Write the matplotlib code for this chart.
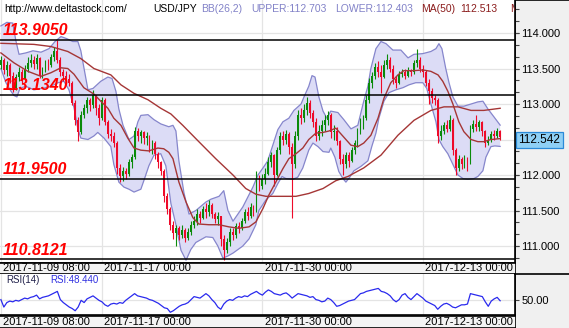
import matplotlib
matplotlib.use("Agg")
import matplotlib.pyplot as plt
import numpy as np
from matplotlib.lines import Line2D

# USD/JPY 4h bars, 2017-11-09 .. 2017-12-15
first_open = 113.55
closes = [
    113.62, 113.48, 113.55, 113.40, 113.22, 113.38, 113.45, 113.35, 113.50, 113.58,
    113.62, 113.56, 113.65, 113.40, 113.48, 113.58, 113.55, 113.66, 113.74, 113.62,
    113.45, 113.40, 113.35, 113.30, 113.02, 112.78, 112.60, 112.85, 112.95, 113.05,
    112.98, 113.12, 112.95, 112.80, 113.05, 112.75, 112.58, 112.55, 112.45, 112.10,
    111.98, 112.05, 112.02, 112.18, 112.25, 112.62, 112.55, 112.60, 112.52, 112.55,
    112.38, 112.45, 112.30, 112.18, 112.05, 111.70, 111.52, 111.30, 111.18, 111.25,
    111.15, 111.22, 111.12, 111.20, 111.30, 111.35, 111.45, 111.40, 111.52, 111.48,
    111.58, 111.45, 111.38, 111.42, 111.10, 110.95, 111.05, 111.20, 111.15, 111.28,
    111.25, 111.35, 111.48, 111.42, 111.55, 111.50, 111.95, 111.85, 111.95, 112.02,
    112.18, 112.28, 112.00, 112.35, 112.55, 112.50, 112.58, 112.40, 112.15, 112.55,
    112.85, 112.80, 112.92, 113.02, 112.88, 112.75, 112.55, 112.62, 112.70, 112.78,
    112.85, 112.60, 112.62, 112.48, 112.22, 112.15, 112.28, 112.20, 112.35, 112.45,
    112.62, 112.72, 112.80, 113.05, 113.30, 113.40, 113.52, 113.45, 113.38, 113.55,
    113.62, 113.50, 113.35, 113.30, 113.42, 113.45, 113.40, 113.48, 113.45, 113.58,
    113.62, 113.50, 113.45, 113.30, 113.18, 113.08, 113.05, 112.55, 112.62, 112.70,
    112.65, 112.78, 112.35, 112.10, 112.22, 112.15, 112.22, 112.18, 112.65, 112.72,
    112.68, 112.74, 112.62, 112.45, 112.50, 112.58, 112.55, 112.62, 112.542,
]
highs = [
    113.68, 113.65, 113.60, 113.58, 113.45, 113.42, 113.52, 113.50, 113.55, 113.66,
    113.70, 113.68, 113.70, 113.66, 113.52, 113.62, 113.64, 113.70, 113.80, 113.905,
    113.66, 113.50, 113.46, 113.42, 113.32, 113.05, 112.82, 112.90, 113.00, 113.10,
    113.08, 113.20, 113.12, 113.00, 113.10, 113.08, 112.78, 112.65, 112.60, 112.48,
    112.15, 112.12, 112.10, 112.22, 112.30, 112.68, 112.66, 112.64, 112.62, 112.60,
    112.56, 112.50, 112.48, 112.32, 112.20, 112.08, 111.75, 111.55, 111.35, 111.30,
    111.28, 111.30, 111.26, 111.25, 111.35, 111.42, 111.52, 111.50, 111.56, 111.60,
    111.65, 111.60, 111.48, 111.48, 111.42, 111.15, 111.12, 111.25, 111.26, 111.32,
    111.34, 111.40, 111.52, 111.55, 111.60, 111.58, 112.05, 112.00, 112.02, 112.10,
    112.25, 112.32, 112.30, 112.40, 112.60, 112.62, 112.64, 112.60, 112.45, 112.62,
    112.92, 112.95, 113.00, 113.10, 113.05, 112.92, 112.80, 112.70, 112.78, 112.85,
    112.90, 112.88, 112.70, 112.68, 112.50, 112.30, 112.32, 112.32, 112.40, 112.50,
    112.66, 112.80, 112.85, 113.12, 113.36, 113.45, 113.58, 113.60, 113.55, 113.62,
    113.70, 113.66, 113.55, 113.40, 113.46, 113.50, 113.50, 113.52, 113.50, 113.62,
    113.78, 113.66, 113.55, 113.48, 113.35, 113.22, 113.12, 113.08, 112.70, 112.75,
    112.78, 112.85, 112.80, 112.38, 112.28, 112.26, 112.28, 112.25, 112.70, 112.78,
    112.85, 112.78, 112.76, 112.64, 112.55, 112.62, 112.64, 112.66, 112.64,
]
lows = [
    113.50, 113.42, 113.40, 113.30, 113.17, 113.20, 113.33, 113.28, 113.32, 113.45,
    113.52, 113.50, 113.50, 113.36, 113.36, 113.45, 113.48, 113.52, 113.60, 113.58,
    113.40, 113.32, 113.28, 113.25, 112.98, 112.70, 112.48, 112.58, 112.80, 112.88,
    112.90, 112.95, 112.85, 112.70, 112.78, 112.70, 112.52, 112.48, 112.40, 112.02,
    111.90, 111.92, 111.95, 111.98, 112.10, 112.22, 112.48, 112.45, 112.44, 112.42,
    112.32, 112.30, 112.22, 112.10, 112.00, 111.62, 111.45, 111.22, 111.10, 111.00,
    111.08, 111.12, 111.05, 111.08, 111.15, 111.25, 111.30, 111.32, 111.38, 111.40,
    111.42, 111.40, 111.32, 111.30, 111.00, 110.80, 110.90, 111.00, 111.08, 111.12,
    111.18, 111.22, 111.32, 111.36, 111.40, 111.42, 111.48, 111.78, 111.80, 111.88,
    112.00, 112.12, 111.85, 111.98, 112.30, 112.42, 112.44, 112.30, 111.40, 112.10,
    112.50, 112.72, 112.75, 112.85, 112.80, 112.68, 112.48, 112.50, 112.55, 112.62,
    112.70, 112.52, 112.50, 112.42, 112.15, 112.00, 112.10, 112.12, 112.18, 112.30,
    112.40, 112.58, 112.65, 112.78, 113.02, 113.22, 113.35, 113.38, 113.15, 113.36,
    113.50, 113.45, 113.28, 113.22, 113.28, 113.38, 113.35, 113.38, 113.40, 113.42,
    113.52, 113.45, 113.38, 113.25, 113.00, 113.02, 112.98, 112.45, 112.50, 112.58,
    112.60, 112.62, 112.28, 112.00, 112.05, 112.08, 112.10, 112.05, 112.15, 112.60,
    112.62, 112.62, 112.55, 112.40, 112.42, 112.46, 112.50, 112.52, 112.50,
]

# Bollinger(26,2) envelope, sampled along the bar axis
upper_pos = [0, 2.0, 4.0, 5.0, 6.1, 8.4, 10.8, 13.5, 16.2, 18.2, 20.2, 22.2, 24.2, 25.9,
             26.9, 27.9, 29.3, 31.0, 33.6, 36.0, 37.4, 38.7, 39.7, 41.1, 43.1, 44.8, 46.1,
             47.1, 49.5, 51.5, 53.8, 56.5, 57.9, 58.9, 59.9, 61.6, 63.3, 65.6, 69.0, 70.7,
             73.4, 75.0, 76.4, 78.1, 81.4, 84.8, 86.5, 88.2, 89.8, 91.5, 93.2, 94.9, 96.9,
             98.6, 101.0, 102.0, 103.6, 104.7, 105.7, 107.0, 108.4, 109.7, 111.0, 113.4,
             115.4, 117.8, 120.1, 122.1, 123.5, 124.5, 126.2, 127.9, 129.6, 131.9, 134.6,
             137.0, 139.0, 142.0, 144.7, 146.4, 147.4, 148.4, 149.7, 150.8, 152.1, 153.8,
             155.8, 158.2, 160.5, 162.2, 163.9, 165.9, 168]
upper_val = [114.10, 114.15, 114.14, 113.90, 113.70, 113.72, 113.75, 113.73, 113.78, 113.88,
             113.95, 113.92, 113.88, 113.88, 113.75, 113.52, 113.20, 113.22, 113.32, 113.38,
             113.36, 113.18, 112.93, 112.70, 112.50, 112.55, 112.75, 112.84, 112.85, 112.78,
             112.72, 112.68, 112.70, 112.62, 112.20, 111.75, 111.45, 111.50, 111.62, 111.66,
             111.70, 111.78, 111.50, 111.35, 111.55, 111.83, 112.00, 112.10, 112.20, 112.42,
             112.64, 112.75, 112.80, 112.91, 113.00, 113.10, 113.25, 113.40, 113.38, 113.10,
             112.90, 112.80, 112.90, 112.88, 112.78, 112.65, 112.70, 113.04, 113.25, 113.50,
             113.78, 113.88, 113.85, 113.76, 113.76, 113.65, 113.70, 113.71, 113.74, 113.78,
             113.85, 113.78, 113.50, 113.30, 113.10, 112.97, 112.97, 113.00, 113.03, 113.04,
             112.93, 112.82, 112.703]
lower_pos = [0, 1.7, 3.4, 4.4, 5.4, 6.4, 8.4, 11.1, 14.1, 16.8, 19.2, 21.2, 22.9, 24.6,
             25.9, 26.9, 29.3, 31.3, 32.6, 34.7, 37.0, 38.0, 39.7, 41.4, 43.1, 44.8, 47.1,
             48.1, 49.8, 51.5, 53.8, 55.5, 57.2, 58.9, 60.6, 62.3, 63.9, 65.6, 69.0, 71.3,
             73.0, 74.7, 76.4, 78.1, 81.4, 83.5, 85.8, 86.8, 89.2, 91.5, 93.2, 94.6, 95.9,
             98.3, 99.9, 101.6, 103.6, 105.0, 106.7, 108.4, 110.4, 111.0, 112.4, 113.7,
             115.1, 116.1, 117.4, 118.8, 121.1, 123.5, 124.8, 126.2, 127.2, 128.9, 130.6,
             132.9, 135.3, 137.3, 139.6, 142.0, 143.3, 144.7, 146.4, 147.4, 148.7, 150.4,
             152.1, 153.8, 155.5, 157.1, 159.2, 160.5, 162.2, 163.2, 164.9, 166.2, 168]
lower_val = [113.50, 113.30, 113.18, 113.12, 113.10, 113.22, 113.25, 113.20, 113.22, 113.25,
             113.30, 113.32, 113.20, 112.95, 112.65, 112.52, 112.50, 112.55, 112.60, 112.52,
             112.40, 112.15, 111.90, 111.83, 111.80, 111.76, 111.80, 111.92, 112.13, 112.28,
             112.30, 112.13, 111.60, 111.30, 110.94, 110.80, 110.95, 111.05, 111.13, 111.12,
             111.00, 110.83, 110.86, 110.90, 111.00, 111.10, 111.30, 111.50, 111.65, 111.74,
             111.88, 111.98, 111.95, 111.94, 111.97, 112.10, 112.35, 112.45, 112.40, 112.33,
             112.32, 112.38, 112.25, 112.05, 111.95, 111.90, 111.97, 112.06, 112.12, 112.20,
             112.40, 112.59, 112.80, 113.04, 113.16, 113.20, 113.23, 113.27, 113.30, 113.30,
             113.22, 113.00, 112.75, 112.50, 112.40, 112.30, 112.15, 112.00, 111.95, 111.94,
             111.95, 111.98, 112.06, 112.25, 112.40, 112.41, 112.403]

# MA(50) and the slow moving average
ma50_pos = [0, 4.4, 9.1, 13.5, 16.8, 20.2, 22.5, 24.6, 27.9, 31.3, 33.6, 36.0, 38.0, 40.4,
            42.7, 44.8, 47.1, 49.8, 52.8, 54.8, 56.5, 57.9, 59.9, 62.3, 64.6, 66.6, 70.0,
            73.4, 76.7, 80.1, 83.5, 85.8, 88.2, 90.2, 92.5, 94.9, 96.9, 99.3, 101.6, 103.6,
            106.0, 108.4, 110.4, 112.7, 114.4, 116.1, 117.8, 120.1, 122.1, 124.5, 126.9,
            128.9, 131.2, 133.6, 135.6, 139.0, 142.0, 144.7, 147.1, 148.7, 150.4, 152.1,
            154.1, 155.8, 158.2, 160.5, 162.5, 164.9, 168]
ma50_val = [113.72, 113.58, 113.46, 113.39, 113.44, 113.51, 113.50, 113.42, 113.23, 113.14,
            113.04, 112.94, 112.80, 112.70, 112.52, 112.38, 112.35, 112.34, 112.38, 112.37,
            112.32, 112.23, 111.90, 111.62, 111.40, 111.31, 111.30, 111.30, 111.27, 111.25,
            111.27, 111.34, 111.53, 111.72, 111.90, 112.09, 112.23, 112.30, 112.38, 112.50,
            112.59, 112.60, 112.62, 112.66, 112.58, 112.50, 112.42, 112.40, 112.45, 112.56,
            112.80, 113.08, 113.30, 113.41, 113.47, 113.47, 113.48, 113.46, 113.41, 113.32,
            113.18, 113.00, 112.75, 112.61, 112.50, 112.47, 112.47, 112.50, 112.513]
slow_pos = [0, 11.1, 16.8, 22.5, 26.9, 31.3, 37.0, 40.4, 44.8, 49.5, 53.8, 57.2, 61.2, 66.6,
            72.3, 78.1, 82.4, 85.8, 89.2, 94.9, 99.3, 103.6, 108.4, 112.7, 116.8, 122.1,
            127.9, 133.6, 139.0, 144.7, 149.1, 153.8, 158.2, 162.5, 168]
slow_val = [113.855, 113.84, 113.81, 113.74, 113.64, 113.50, 113.41, 113.27, 113.15, 113.06,
            112.94, 112.86, 112.70, 112.47, 112.23, 112.00, 111.81, 111.73, 111.70, 111.70,
            111.70, 111.74, 111.81, 111.92, 111.98, 112.10, 112.28, 112.56, 112.77, 112.91,
            112.96, 112.96, 112.91, 112.91, 112.94]

rsi = [
    50, 40, 46, 48, 47, 49, 48, 50, 52, 51, 53, 54, 56, 51, 53, 54, 55, 57, 59, 61,
    50, 46, 43, 40, 38, 35, 40, 49, 46, 51, 53, 55, 52, 49, 47, 43, 41, 44, 45, 44,
    46, 45, 49, 52, 55, 58, 55, 54, 53, 52, 50, 49, 47, 45, 42, 39, 38, 33, 35, 38,
    41, 43, 44, 46, 50, 54, 53, 52, 55, 58, 55, 50, 46, 40, 37, 44, 48, 50, 49, 52,
    54, 53, 55, 54, 57, 59, 61, 58, 56, 60, 63, 61, 58, 57, 56, 58, 59, 56, 52, 55,
    58, 57, 56, 55, 53, 54, 50, 49, 47, 48, 52, 50, 46, 41, 42, 44, 46, 48, 49, 50,
    54, 58, 59, 61, 62, 63, 64, 65, 61, 60, 58, 55, 50, 47, 50, 56, 58, 53, 50, 54,
    58, 55, 52, 48, 46, 44, 42, 37, 41, 44, 45, 43, 40, 39, 41, 43, 43, 44, 58, 57,
    56, 55, 54, 47, 41, 48, 51, 53, 48.44,
]

levels = [113.9050, 113.1340, 111.9500, 110.8121]
date_pos = [0, 34, 88, 142]
date_labels = ["2017-11-09 08:00", "2017-11-17 00:00", "2017-11-30 00:00", "2017-12-13 00:00"]

GREEN = "#0a8a0a"
RED = "#ee0a2a"
MA_COLOR = "#a53636"
BAND_EDGE = "#8686cc"
BAND_FILL = "#dcdcf6"
GRID = "#e4e4e4"
PANEL = "#f0f0f0"
FONT = "Liberation Sans"

W, H = 569, 328
fig = plt.figure(figsize=(W / 100, H / 100), dpi=100)


def box(x0, y0, x1, y1):
    # pixel box (top-left origin) -> figure fraction
    return [x0 / W, 1 - y1 / H, (x1 - x0) / W, (y1 - y0) / H]


XLIM = (-0.3, 173.0)

# grey price scale panel on the right
panel = fig.add_axes(box(515, 0, 569, 328))
panel.set_facecolor(PANEL)
panel.set_xticks([])
panel.set_yticks([])
for s in ["right", "bottom"]:
    panel.spines[s].set_visible(False)
panel.spines["left"].set_linewidth(1.2)
panel.spines["top"].set_linewidth(1.2)

# ---- price pane ----
ax = fig.add_axes(box(0, 0, 515, 262.5))
ax.set_xlim(*XLIM)
ax.set_ylim(110.768, 114.465)

idx = np.arange(len(closes))
c = np.array(closes)
o = np.r_[first_open, c[:-1]]
col = np.where(c >= o, GREEN, RED)

ax.fill(np.r_[upper_pos, lower_pos[::-1]], np.r_[upper_val, lower_val[::-1]],
        color=BAND_FILL, lw=0, zorder=1)
ax.plot(upper_pos, upper_val, color=BAND_EDGE, lw=0.9, zorder=2)
ax.plot(lower_pos, lower_val, color=BAND_EDGE, lw=0.9, zorder=2)

ax.vlines(idx, lows, highs, colors=col, lw=0.8, zorder=3)
body = np.maximum(np.abs(c - o), 0.012)
ax.bar(idx, body, bottom=np.minimum(o, c), width=0.62, color=col, lw=0, zorder=3)

ax.plot(slow_pos, slow_val, color=MA_COLOR, lw=1.0, zorder=4)
ax.plot(ma50_pos, ma50_val, color=MA_COLOR, lw=1.0, zorder=4)

for lv in levels:
    ax.axhline(lv, color="black", lw=1.1, zorder=5)
    ax.annotate(f"{lv:.4f}", xy=(0, lv), xycoords=("axes fraction", "data"),
                xytext=(2, 3.4), textcoords="offset points", va="baseline",
                fontsize=11.5, fontweight="bold", fontstyle="italic",
                color="#ff0000", family=FONT, zorder=7)

ax.set_xticks(date_pos)
ax.tick_params(axis="x", length=0, labelbottom=False)
ax.yaxis.tick_right()
ax.set_yticks(np.arange(111.0, 114.01, 0.5))
ax.set_yticks(np.arange(110.8334, 114.4, 0.5 / 3), minor=True)
ax.set_yticklabels([f"{v:.3f}" for v in np.arange(111.0, 114.01, 0.5)],
                   family=FONT, fontsize=8)
ax.tick_params(axis="y", which="both", direction="out", length=3, width=0.8,
               color="#444444", pad=1.5)
ax.grid(True, which="major", color=GRID, lw=0.9, zorder=0)
ax.set_axisbelow(True)
for s in ["top", "left"]:
    ax.spines[s].set_visible(False)
ax.spines["right"].set_linewidth(1.2)
ax.spines["bottom"].set_linewidth(1.2)

# header line
head_y = 1 - 9 / 262.5
header = [
    (4, "http://www.deltastock.com/", "black"),
    (153, "USD/JPY", "black"),
    (201, "BB(26,2)", "#8282c8"),
    (251, "UPPER:112.703", "#8282c8"),
    (335, "LOWER:112.403", "#8282c8"),
    (421, "MA(50)", "#8b1c1c"),
    (460, "112.513", "#8b1c1c"),
    (510, "MA(200)", "#8b1c1c"),
]
for hx, txt, tc in header:
    ax.text(hx / 515, head_y, txt, transform=ax.transAxes, va="center", ha="left",
            fontsize=7.5, family=FONT, color=tc, clip_on=True, zorder=8)

# last price tag
last = closes[-1]
ax.annotate(f"{last:.3f}", xy=(1, last), xycoords=("axes fraction", "data"),
            xytext=(2.5, -2.5), textcoords="offset points", va="center", ha="left",
            fontsize=8.5, family=FONT, color="black", annotation_clip=False,
            bbox=dict(boxstyle="square,pad=0.2", fc="#8fd0f5", ec="#2a8ad8", lw=0.9),
            zorder=9)


def date_strip(rect):
    d = fig.add_axes(rect)
    d.set_facecolor("#f3f3f3")
    d.set_xlim(*XLIM)
    d.set_ylim(0, 1)
    d.set_xticks([])
    d.set_yticks([])
    for s in ["left", "right"]:
        d.spines[s].set_visible(False)
    d.spines["top"].set_linewidth(1.2)
    d.spines["bottom"].set_linewidth(1.2)
    for p, lab in zip(date_pos, date_labels):
        d.annotate(lab, xy=(p, 0.5), xytext=(1.6, 0), textcoords="offset points",
                   va="center", ha="left", fontsize=8, family=FONT)
    return d


date_strip(box(0, 262.5, 515, 273.5))

# ---- RSI pane ----
ar = fig.add_axes(box(0, 273.5, 515, 314.5))
ar.set_xlim(*XLIM)
ar.set_ylim(30, 85)
ar.plot(idx, rsi, color="#2a2aee", lw=0.9, zorder=3)
ar.set_xticks(date_pos)
ar.tick_params(axis="x", length=0, labelbottom=False)
ar.yaxis.tick_right()
ar.set_yticks([50])
ar.set_yticklabels(["50.00"], family=FONT, fontsize=8)
ar.tick_params(axis="y", direction="out", length=3, width=0.8, color="#444444", pad=1.5)
ar.grid(True, color=GRID, lw=0.9, zorder=0)
ar.set_axisbelow(True)
for s in ["top", "left"]:
    ar.spines[s].set_visible(False)
ar.spines["right"].set_linewidth(1.2)
ar.spines["bottom"].set_linewidth(1.2)
ar.text(6 / 515, 0.83, "RSI(14)", transform=ar.transAxes, va="center", ha="left",
        fontsize=7, family=FONT, color="#20204a")
ar.text(50 / 515, 0.83, f"RSI:{rsi[-1]:.3f}", transform=ar.transAxes, va="center",
        ha="left", fontsize=7, family=FONT, color="#3030e0")

date_strip(box(0, 316, 515, 327.5))

# separator running through the scale panel
fig.add_artist(Line2D([515 / W, 1], [1 - 273.5 / H] * 2, color="black", lw=1.2))

fig.savefig("out.png", dpi=100)
